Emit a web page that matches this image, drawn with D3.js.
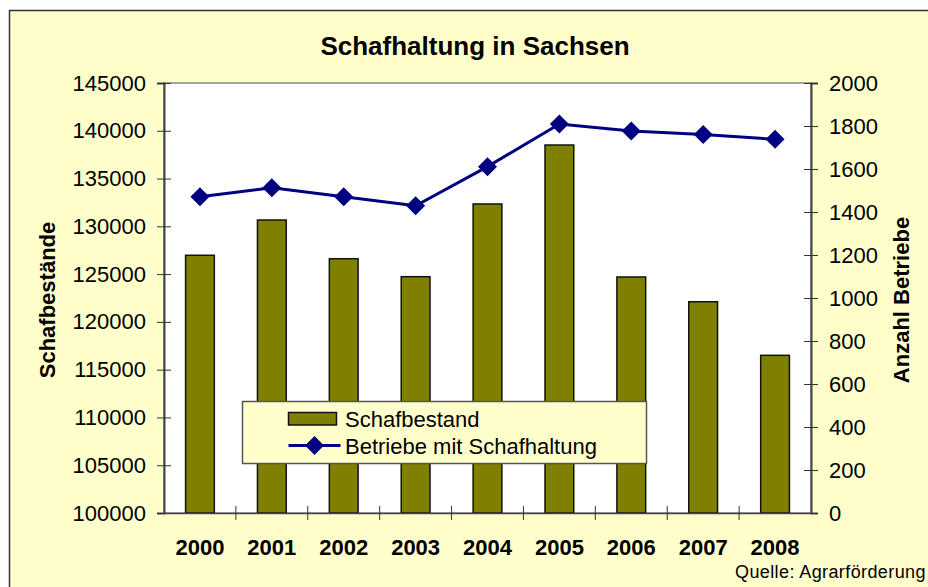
<!DOCTYPE html>
<html lang="de">
<head>
  <meta charset="UTF-8" />
  <title>Schafhaltung in Sachsen</title>
  <script src="https://d3js.org/d3.v7.min.js"></script>
  <style>
    body { margin: 0; background: #fff; font-family: Arial, "Liberation Sans", sans-serif; }
    svg { display: block; }
    .tick text { font-size: 22px; fill: #000; }
    .x-axis .tick text { font-weight: bold; }
    .axis-title { font-size: 22px; font-weight: bold; }
  </style>
</head>
<body>

<svg width="928" height="587"></svg>

<script>
  // Daten
  const jahre = ["2000", "2001", "2002", "2003", "2004", "2005", "2006", "2007", "2008"];
  const schafbestand = [126970, 130660, 126610, 124730, 132340, 138510, 124700, 122110, 116500];
  const betriebe = [1471, 1513, 1471, 1429, 1611, 1809, 1777, 1761, 1738];
  const ticksLinks = [100000, 105000, 110000, 115000, 120000, 125000, 130000, 135000, 140000, 145000];
  const ticksRechts = [0, 200, 400, 600, 800, 1000, 1200, 1400, 1600, 1800, 2000];

  const svg = d3.select("svg");
  const plot = {left: 164, right: 811, top: 83, bottom: 513};

  // Hintergrund + Rahmen
  svg.append("rect")
    .attr("x", 9.5).attr("y", 10.5)
    .attr("width", 1000).attr("height", 1000)
    .attr("fill", "#FFFFCC")
    .attr("stroke", "#333").attr("stroke-width", 1.5);

  svg.append("rect")
    .attr("x", plot.left).attr("y", plot.top)
    .attr("width", plot.right - plot.left).attr("height", plot.bottom - plot.top)
    .attr("fill", "#fff")
    .attr("stroke", "#888").attr("stroke-width", 1.5);

  // Skalen
  const x = d3.scaleBand().domain(jahre).range([plot.left, plot.right]).padding(0);
  const yL = d3.scaleLinear().domain([100000, 145000]).range([plot.bottom, plot.top]);
  const yR = d3.scaleLinear().domain([0, 2000]).range([plot.bottom, plot.top]);

  const barW = x.bandwidth() / 2.5;

  // Balken
  svg.selectAll(".bar")
    .data(jahre)
    .enter()
    .append("rect")
    .attr("class", "bar")
    .attr("x", d => x(d) + (x.bandwidth() - barW) / 2)
    .attr("y", (d, i) => yL(schafbestand[i]))
    .attr("width", barW)
    .attr("height", (d, i) => plot.bottom - yL(schafbestand[i]))
    .attr("fill", "#808000")
    .attr("stroke", "#111").attr("stroke-width", 1.5);

  // Achsen
  const axLeft = svg.append("g")
    .attr("transform", `translate(${plot.left},0)`)
    .call(d3.axisLeft(yL).tickValues(ticksLinks).tickFormat(d3.format("d")).tickSize(7).tickPadding(11));
  axLeft.selectAll(".tick line").attr("x2", 7).attr("x1", -7);

  const axRight = svg.append("g")
    .attr("transform", `translate(${plot.right},0)`)
    .call(d3.axisRight(yR).tickValues(ticksRechts).tickFormat(d3.format("d")).tickSize(7).tickPadding(11));
  axRight.selectAll(".tick line").attr("x2", 7).attr("x1", -7);

  const axBottom = svg.append("g")
    .attr("class", "x-axis")
    .attr("transform", `translate(0,${plot.bottom})`)
    .call(d3.axisBottom(x).tickSize(0).tickPadding(26));

  // Tick-Striche zwischen den Kategorien
  axBottom.selectAll(".sep")
    .data(jahre.slice(1))
    .enter()
    .append("line")
    .attr("x1", d => x(d)).attr("x2", d => x(d))
    .attr("y1", -7).attr("y2", 7)
    .attr("stroke", "#333");

  svg.selectAll(".domain").attr("stroke", "#444").attr("stroke-width", 2);
  axBottom.select(".domain").attr("stroke-width", 1.5);
  svg.selectAll(".tick line").attr("stroke", "#333");

  // Linie
  const line = d3.line()
    .x((d, i) => x(jahre[i]) + x.bandwidth() / 2)
    .y(d => yR(d));

  svg.append("path")
    .datum(betriebe)
    .attr("d", line)
    .attr("fill", "none")
    .attr("stroke", "#000080")
    .attr("stroke-width", 3);

  const diamond = "M0,-9.5L9.5,0L0,9.5L-9.5,0Z";

  svg.selectAll(".marker")
    .data(betriebe)
    .enter()
    .append("path")
    .attr("class", "marker")
    .attr("d", diamond)
    .attr("transform", (d, i) => `translate(${x(jahre[i]) + x.bandwidth() / 2},${yR(d)})`)
    .attr("fill", "#000080");

  // Titel
  svg.append("text")
    .attr("x", 475).attr("y", 55)
    .attr("text-anchor", "middle")
    .style("font-size", "26px").style("font-weight", "bold")
    .text("Schafhaltung in Sachsen");

  svg.append("text")
    .attr("class", "axis-title")
    .attr("transform", "translate(55,300) rotate(-90)")
    .attr("text-anchor", "middle")
    .text("Schafbestände");

  svg.append("text")
    .attr("class", "axis-title")
    .attr("transform", "translate(909,300) rotate(-90)")
    .attr("text-anchor", "middle")
    .text("Anzahl Betriebe");

  // Legende
  const legend = svg.append("g").attr("transform", "translate(242.5,401.5)");
  legend.append("rect")
    .attr("width", 404).attr("height", 62)
    .attr("fill", "#FFFFCC")
    .attr("stroke", "#555").attr("stroke-width", 1.5);

  legend.append("rect")
    .attr("x", 46).attr("y", 11)
    .attr("width", 48).attr("height", 12.5)
    .attr("fill", "#808000")
    .attr("stroke", "#111").attr("stroke-width", 1.5);
  legend.append("text")
    .attr("x", 102.5).attr("y", 25)
    .style("font-size", "22px")
    .text("Schafbestand");

  legend.append("line")
    .attr("x1", 46).attr("x2", 98)
    .attr("y1", 44).attr("y2", 44)
    .attr("stroke", "#000080").attr("stroke-width", 3);
  legend.append("path")
    .attr("d", diamond)
    .attr("transform", "translate(72,44)")
    .attr("fill", "#000080");
  legend.append("text")
    .attr("x", 102.5).attr("y", 52)
    .style("font-size", "22px")
    .text("Betriebe mit Schafhaltung");

  // Quelle
  svg.append("text")
    .attr("x", 735).attr("y", 578)
    .style("font-size", "18px")
    .style("letter-spacing", "0.4px")
    .text("Quelle: Agrarförderung");
</script>

</body>
</html>
